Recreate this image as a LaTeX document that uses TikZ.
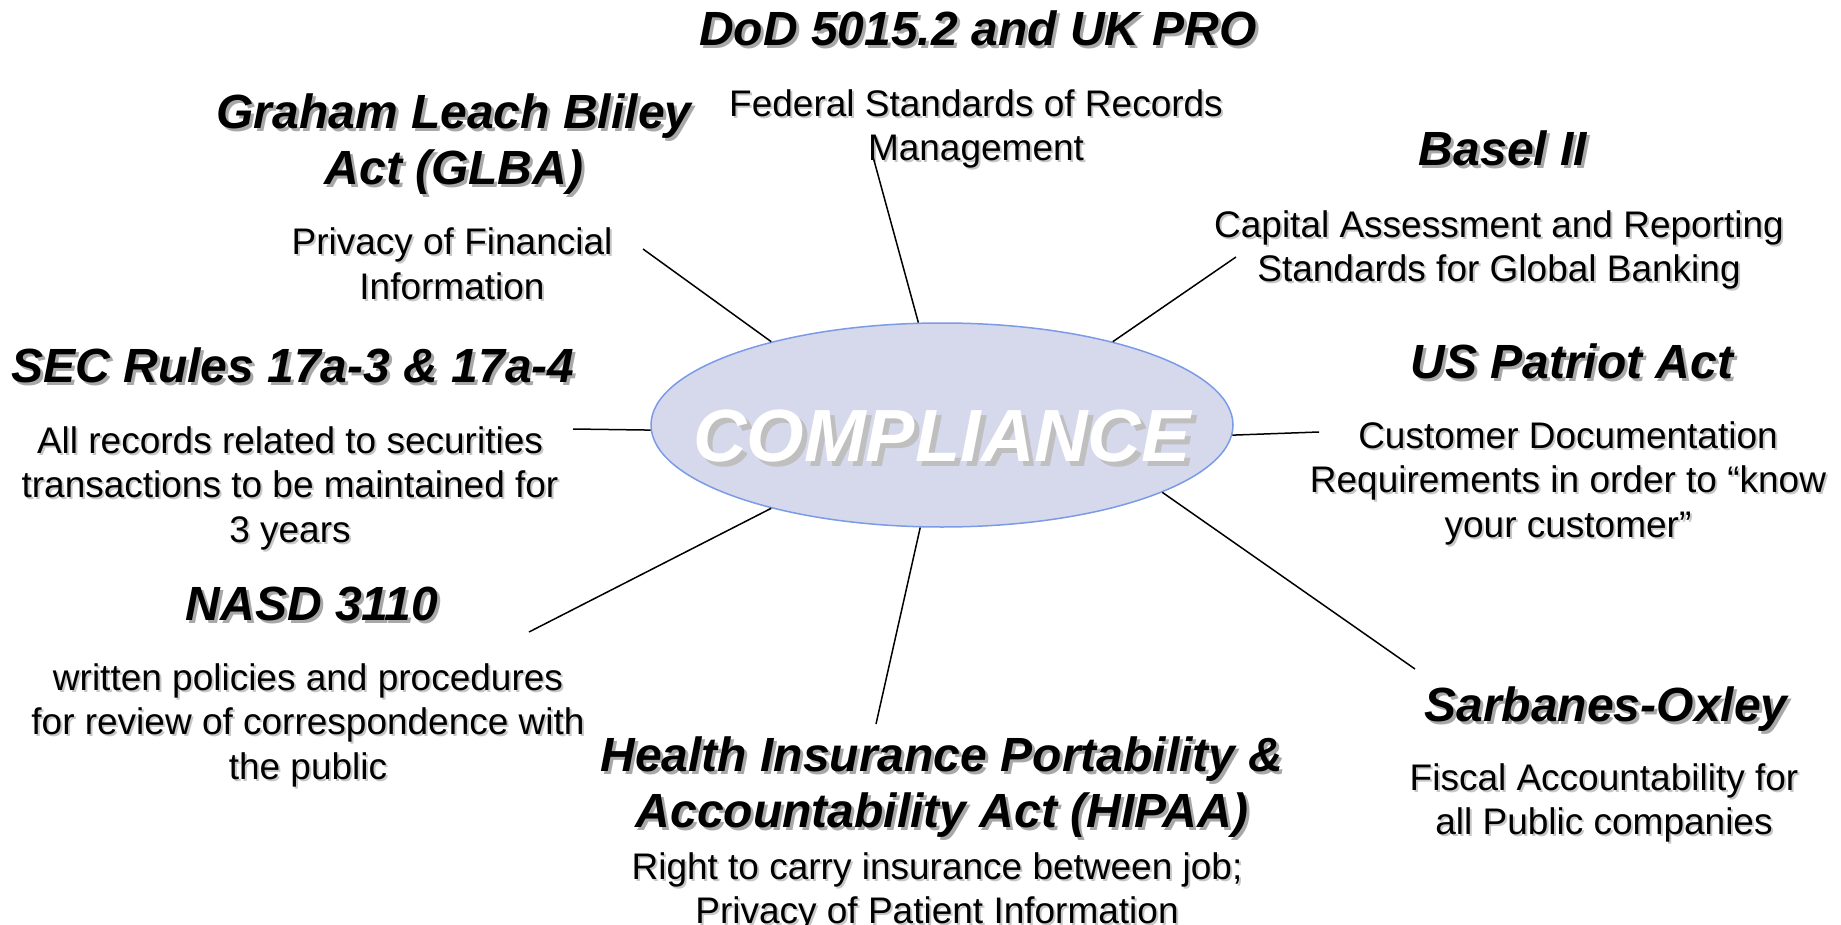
\documentclass[tikz,border=0pt]{standalone}
\usepackage{fontspec}
\setmainfont{Liberation Sans}
\usetikzlibrary{shapes.geometric}

\definecolor{compfill}{HTML}{D6D8EC}
\definecolor{compline}{HTML}{7B9BE6}
\definecolor{shadowgray}{HTML}{A8A8A8}
\newcommand{\ttl}[1]{\leavevmode\rlap{\kern3pt\raisebox{-3pt}{\color{shadowgray}#1}}#1}
\newcommand{\bdy}[1]{\leavevmode\rlap{\kern2pt\raisebox{-2pt}{\color{black!22}#1}}#1}

\tikzset{
  lawtitle/.style={font=\fontsize{48}{56}\selectfont\bfseries\itshape, align=center, inner sep=0pt},
  lawtext/.style={font=\fontsize{37}{44.5}\selectfont, align=center, inner sep=0pt},
  link/.style={line width=1.5pt, black}
}

\begin{document}
\begin{tikzpicture}[x=1pt,y=-1pt]
    \useasboundingbox (0,0) rectangle (1841,925);
    \node[ellipse, draw=compline, fill=compfill, line width=1.5pt, minimum width=582pt, minimum height=204pt, inner sep=0pt] (comp) at (942,425) {};
    \node[font=\fontsize{74}{80}\selectfont\bfseries\itshape, text=white] (complabel) at (942,439) {\rlap{\kern5pt\raisebox{-5pt}{\color{black!25}COMPLIANCE}}COMPLIANCE};

    % titles and their texts
    \node[lawtitle] (dodtitle) at (978,30) {\ttl{DoD 5015.2 and UK PRO}};
    \node[lawtext] (dodtext) at (976,130) {\bdy{Federal Standards of Records}\\\bdy{Management}};
    \node[lawtitle] (glbatitle) at (454,146) {\ttl{Graham Leach Bliley}\\\ttl{Act (GLBA)}};
    \node[lawtext] (glbatext) at (452,265) {\bdy{Privacy of Financial}\\\bdy{Information}};
    \node[lawtitle] (baseltitle) at (1503,150) {\ttl{Basel II}};
    \node[lawtext] (baseltext) at (1499,251) {\bdy{Capital Assessment and Reporting}\\\bdy{Standards for Global Banking}};
    \node[lawtitle] (sectitle) at (293,367) {\ttl{SEC Rules 17a-3 \& 17a-4}};
    \node[lawtext] (sectext) at (290,489) {\bdy{All records related to securities}\\\bdy{transactions to be maintained for}\\\bdy{3 years}};
    \node[lawtitle] (patriottitle) at (1572,363) {\ttl{US Patriot Act}};
    \node[lawtext] (patriottext) at (1568,484) {\bdy{Customer Documentation}\\\bdy{Requirements in order to “know}\\\bdy{your customer”}};
    \node[lawtitle] (nasdtitle) at (312,605) {\ttl{NASD 3110}};
    \node[lawtext] (nasdtext) at (308,726) {\bdy{written policies and procedures}\\\bdy{for review of correspondence with}\\\bdy{the public}};
    \node[lawtitle] (soxtitle) at (1606,711) {\ttl{Sarbanes-Oxley}};
    \node[lawtext] (soxtext) at (1604,804) {\bdy{Fiscal Accountability for}\\\bdy{all Public companies}};
    \node[lawtitle] (hipaatitle) at (942,789) {\ttl{Health Insurance Portability \&}\\\ttl{Accountability Act (HIPAA)}};
    \node[lawtext] (hipaatext) at (937,893) {\bdy{Right to carry insurance between job;}\\\bdy{Privacy of Patient Information}};

    % spokes
    \coordinate (dodend) at (872,153);
    \coordinate (glbaend) at (643,249);
    \coordinate (baselend) at (1236,257);
    \coordinate (secend) at (573,429);
    \coordinate (patriotend) at (1319,432);
    \coordinate (nasdend) at (529,632);
    \coordinate (soxend) at (1415,669);
    \coordinate (hipaaend) at (876,724);
    \draw[link] (comp.103) -- (dodend);
    \draw[link] (comp.154) -- (glbaend);
    \draw[link] (comp.26) -- (baselend);
    \draw[link] (comp.181) -- (secend);
    \draw[link] (comp.358.6) -- (patriotend);
    \draw[link] (comp.206) -- (nasdend);
    \draw[link] (comp.343) -- (soxend);
    \draw[link] (comp.258.6) -- (hipaaend);
\end{tikzpicture}
\end{document}
